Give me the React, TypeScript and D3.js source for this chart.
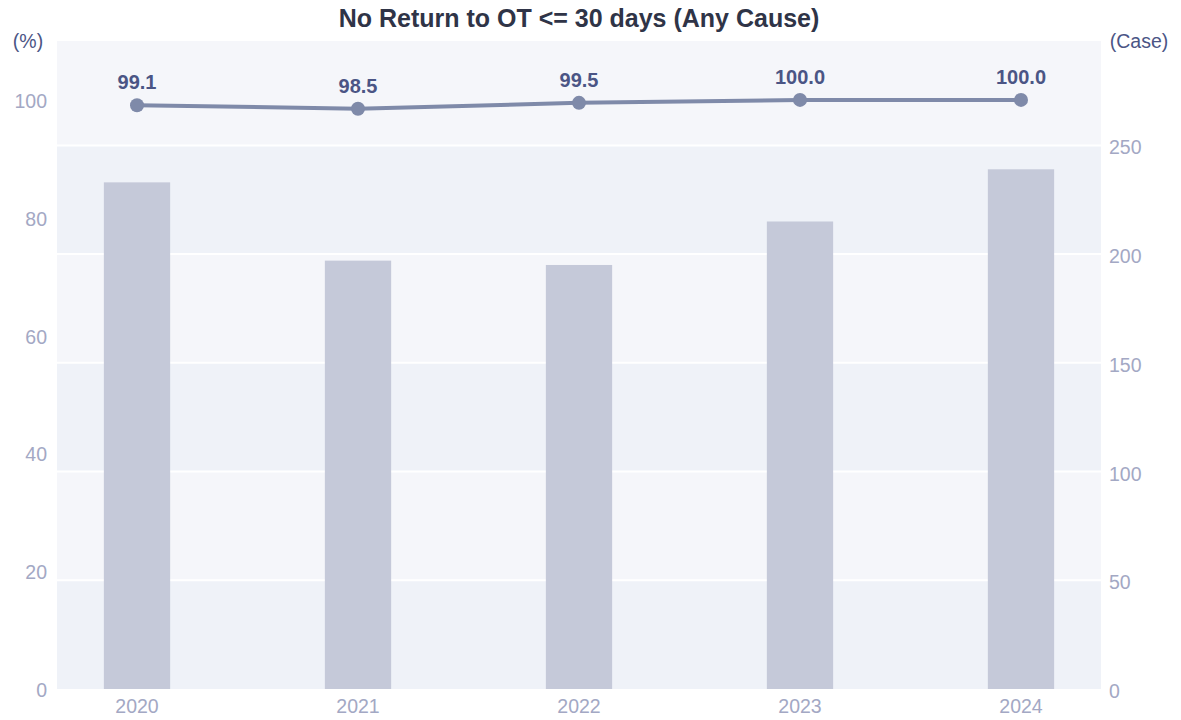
import { useEffect, useRef } from "react";
import * as d3 from "d3";

const years = ["2020", "2021", "2022", "2023", "2024"];
const caseCounts = [233, 197, 195, 215, 239];
const rates = [99.1, 98.5, 99.5, 100.0, 100.0];
const leftTicks = [0, 20, 40, 60, 80, 100];
const rightTicks = [0, 50, 100, 150, 200, 250];
const bandEdges = [0, 50, 100, 150, 200, 250, 298];

export default function App() {
    const ref = useRef<SVGSVGElement | null>(null);

    useEffect(() => {
        const el = ref.current;
        if (!el) return;
        const svg = d3.select(el);
        svg.selectAll("*").remove();

        const width = 1181;
        const height = 720;
        const margin = { top: 41, right: 80, bottom: 31, left: 57 };
        const left = margin.left;
        const right = width - margin.right;
        const top = margin.top;
        const bottom = height - margin.bottom;
        const font = "'Liberation Sans', Arial, sans-serif";
        const tickColor = "#a3a8c4";
        const labelColor = "#4b5585";

        const x = d3.scalePoint<string>()
            .domain(years)
            .range([left, right])
            .padding(0.362);
        const step = x.step();
        const barW = step * 0.3;

        const yL = d3.scaleLinear().domain([0, 110]).range([bottom, top]);
        const yR = d3.scaleLinear().domain([0, 298]).range([bottom, top]);

        // alternating background bands
        const bands = d3.pairs(bandEdges);
        svg.append("g")
            .selectAll("rect")
            .data(bands)
            .join("rect")
            .attr("x", left)
            .attr("width", right - left)
            .attr("y", d => yR(d[1]))
            .attr("height", d => yR(d[0]) - yR(d[1]))
            .attr("fill", (d, i) => (i % 2 === 0 ? "#eff2f8" : "#f5f6fa"));

        // white grid lines
        svg.append("g")
            .selectAll("line")
            .data(rightTicks.filter(t => t > 0))
            .join("line")
            .attr("x1", left)
            .attr("x2", right)
            .attr("y1", d => yR(d))
            .attr("y2", d => yR(d))
            .attr("stroke", "#ffffff")
            .attr("stroke-width", 2);

        // bars
        svg.append("g")
            .selectAll("rect")
            .data(caseCounts)
            .join("rect")
            .attr("x", (d, i) => (x(years[i]) as number) - barW / 2)
            .attr("width", barW)
            .attr("y", d => yR(d))
            .attr("height", d => bottom - yR(d))
            .attr("fill", "#c5c9d9");

        // line + points
        const line = d3.line<number>()
            .x((d, i) => x(years[i]) as number)
            .y(d => yL(d));

        svg.append("path")
            .datum(rates)
            .attr("d", line)
            .attr("fill", "none")
            .attr("stroke", "#7f8aa9")
            .attr("stroke-width", 4);

        svg.append("g")
            .selectAll("circle")
            .data(rates)
            .join("circle")
            .attr("cx", (d, i) => x(years[i]) as number)
            .attr("cy", d => yL(d))
            .attr("r", 7)
            .attr("fill", "#7f8aa9");

        svg.append("g")
            .selectAll("text")
            .data(rates)
            .join("text")
            .attr("x", (d, i) => x(years[i]) as number)
            .attr("y", d => yL(d) - 16)
            .attr("text-anchor", "middle")
            .attr("font-family", font)
            .attr("font-size", 20)
            .attr("font-weight", "bold")
            .attr("fill", labelColor)
            .text(d => d.toFixed(1));

        // left axis labels
        svg.append("g")
            .selectAll("text")
            .data(leftTicks)
            .join("text")
            .attr("x", left - 10)
            .attr("y", d => yL(d) + 8)
            .attr("text-anchor", "end")
            .attr("font-family", font)
            .attr("font-size", 19.5)
            .attr("fill", tickColor)
            .text(d => d);

        // right axis labels
        svg.append("g")
            .selectAll("text")
            .data(rightTicks)
            .join("text")
            .attr("x", right + 8)
            .attr("y", d => yR(d) + 9)
            .attr("text-anchor", "start")
            .attr("font-family", font)
            .attr("font-size", 19.5)
            .attr("fill", tickColor)
            .text(d => d);

        // x axis labels
        svg.append("g")
            .selectAll("text")
            .data(years)
            .join("text")
            .attr("x", d => x(d) as number)
            .attr("y", 713)
            .attr("text-anchor", "middle")
            .attr("font-family", font)
            .attr("font-size", 19.5)
            .attr("fill", tickColor)
            .text(d => d);

        // axis units
        svg.append("text")
            .attr("x", 28)
            .attr("y", 48)
            .attr("text-anchor", "middle")
            .attr("font-family", font)
            .attr("font-size", 19.5)
            .attr("fill", labelColor)
            .text("(%)");

        svg.append("text")
            .attr("x", 1139)
            .attr("y", 48)
            .attr("text-anchor", "middle")
            .attr("font-family", font)
            .attr("font-size", 19.5)
            .attr("fill", labelColor)
            .text("(Case)");

        // title
        svg.append("text")
            .attr("x", (left + right) / 2)
            .attr("y", 27)
            .attr("text-anchor", "middle")
            .attr("font-family", font)
            .attr("font-size", 25)
            .attr("font-weight", "bold")
            .attr("fill", "#2f3447")
            .text("No Return to OT <= 30 days (Any Cause)");
    }, []);

    return (
        <svg
            ref={ref}
            width={1181}
            height={720}
            style={{ position: "absolute", left: 0, top: 0, background: "#ffffff" }}
        />
    );
}
